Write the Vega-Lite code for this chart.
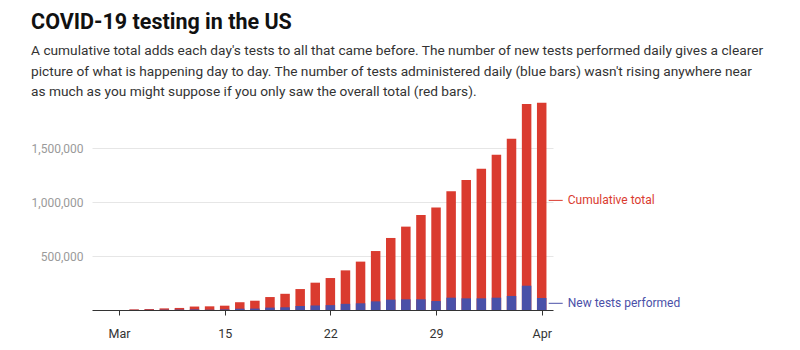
{
  "$schema": "https://vega.github.io/schema/vega-lite/v6.json",
  "width": 461,
  "height": 208,
  "padding": {"left": 31, "top": 11, "right": 5, "bottom": 5},
  "title": {
    "text": "COVID-19 testing in the US",
    "subtitle": [
      "A cumulative total adds each day's tests to all that came before. The number of new tests performed daily gives a clearer",
      "picture of what is happening day to day. The number of tests administered daily (blue bars) wasn't rising anywhere near",
      "as much as you might suppose if you only saw the overall total (red bars)."
    ],
    "anchor": "start",
    "fontSize": 21.5,
    "fontWeight": "bold",
    "color": "#111111",
    "subtitleFontSize": 13.7,
    "subtitleColor": "#333333",
    "subtitleLineHeight": 20.5,
    "subtitlePadding": 11,
    "offset": 3
  },
  "datasets": {
    "tests": [
      {"date": "2020-03-09", "total": 6000, "new": 1000},
      {"date": "2020-03-10", "total": 9000, "new": 2000},
      {"date": "2020-03-11", "total": 15000, "new": 3000},
      {"date": "2020-03-12", "total": 19000, "new": 4000},
      {"date": "2020-03-13", "total": 32000, "new": 6000},
      {"date": "2020-03-14", "total": 34000, "new": 3000},
      {"date": "2020-03-15", "total": 40000, "new": 6000},
      {"date": "2020-03-16", "total": 72000, "new": 12000},
      {"date": "2020-03-17", "total": 86000, "new": 13000},
      {"date": "2020-03-18", "total": 120000, "new": 22000},
      {"date": "2020-03-19", "total": 150000, "new": 25000},
      {"date": "2020-03-20", "total": 194000, "new": 37000},
      {"date": "2020-03-21", "total": 253000, "new": 42000},
      {"date": "2020-03-22", "total": 296000, "new": 45000},
      {"date": "2020-03-23", "total": 367000, "new": 57000},
      {"date": "2020-03-24", "total": 448000, "new": 62000},
      {"date": "2020-03-25", "total": 546000, "new": 80000},
      {"date": "2020-03-26", "total": 667000, "new": 96000},
      {"date": "2020-03-27", "total": 772000, "new": 99000},
      {"date": "2020-03-28", "total": 880000, "new": 99000},
      {"date": "2020-03-29", "total": 948000, "new": 83000},
      {"date": "2020-03-30", "total": 1099000, "new": 114000},
      {"date": "2020-03-31", "total": 1204000, "new": 108000},
      {"date": "2020-04-01", "total": 1309000, "new": 108000},
      {"date": "2020-04-02", "total": 1438000, "new": 114000},
      {"date": "2020-04-03", "total": 1586000, "new": 130000},
      {"date": "2020-04-04", "total": 1907000, "new": 225000},
      {"date": "2020-04-05", "total": 1920000, "new": 111000}
    ],
    "labels": [
      {"date": "2020-04-05", "value": 1015000, "label": "Cumulative total", "series": "total"},
      {"date": "2020-04-05", "value": 62000, "label": "New tests performed", "series": "new"}
    ]
  },
  "encoding": {
    "x": {
      "field": "date",
      "type": "temporal",
      "scale": {
        "type": "utc",
        "domain": [
          {"year": 2020, "month": 3, "date": 6, "hours": 13, "utc": true},
          {"year": 2020, "month": 4, "date": 5, "hours": 10, "utc": true}
        ]
      },
      "axis": {
        "title": null,
        "grid": false,
        "values": [
          {"year": 2020, "month": 3, "date": 8, "utc": true},
          {"year": 2020, "month": 3, "date": 15, "utc": true},
          {"year": 2020, "month": 3, "date": 22, "utc": true},
          {"year": 2020, "month": 3, "date": 29, "utc": true},
          {"year": 2020, "month": 4, "date": 5, "utc": true}
        ],
        "labelExpr": "utcdate(datum.value) === 8 ? 'Mar' : (utcdate(datum.value) === 5 ? 'Apr' : '' + utcdate(datum.value))",
        "domainColor": "#333333",
        "tickColor": "#333333",
        "tickSize": 5,
        "labelColor": "#333333",
        "labelFontSize": 12.5,
        "labelPadding": 12,
        "labelFlush": false,
        "labelOverlap": false
      }
    }
  },
  "layer": [
    {
      "data": {"name": "tests"},
      "mark": {"type": "bar", "size": 9.5, "color": "#da3b2f"},
      "encoding": {
        "y": {
          "field": "total",
          "type": "quantitative",
          "scale": {"domain": [0, 1926000], "nice": false},
          "axis": {
            "title": null,
            "values": [500000, 1000000, 1500000],
            "format": ",.0f",
            "domain": false,
            "ticks": false,
            "labelColor": "#9a9a9a",
            "labelFontSize": 12,
            "labelPadding": 9,
            "gridColor": "#e6e6e6"
          }
        }
      }
    },
    {
      "data": {"name": "tests"},
      "mark": {"type": "bar", "size": 9.5, "color": "#4a50a8"},
      "encoding": {
        "y": {"field": "new", "type": "quantitative"}
      }
    },
    {
      "data": {"name": "labels"},
      "mark": {"type": "rule", "xOffset": 7, "x2Offset": 21, "strokeWidth": 1},
      "encoding": {
        "x2": {"field": "date"},
        "y": {"field": "value", "type": "quantitative"},
        "color": {
          "field": "series",
          "type": "nominal",
          "scale": {"domain": ["total", "new"], "range": ["#da3b2f", "#4a50a8"]},
          "legend": null
        }
      }
    },
    {
      "data": {"name": "labels"},
      "mark": {"type": "text", "align": "left", "baseline": "middle", "dx": 26, "fontSize": 12},
      "encoding": {
        "y": {"field": "value", "type": "quantitative"},
        "text": {"field": "label"},
        "color": {
          "field": "series",
          "type": "nominal",
          "scale": {"domain": ["total", "new"], "range": ["#da3b2f", "#4a50a8"]},
          "legend": null
        }
      }
    }
  ],
  "config": {
    "font": "Roboto",
    "view": {"stroke": null},
    "axis": {"labelFont": "Roboto"},
    "text": {"font": "Roboto"}
  }
}
